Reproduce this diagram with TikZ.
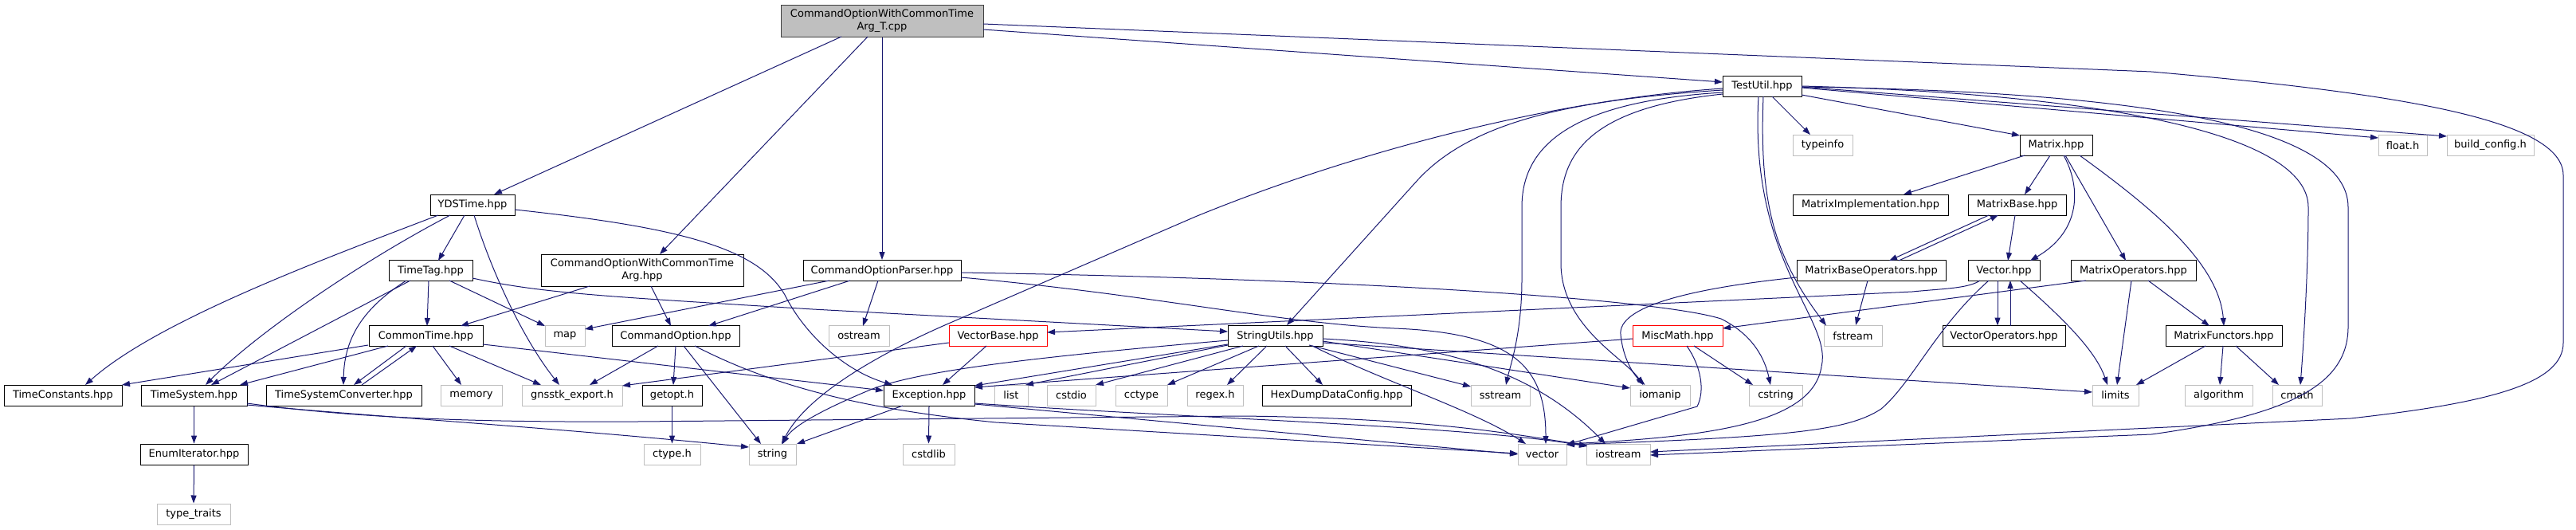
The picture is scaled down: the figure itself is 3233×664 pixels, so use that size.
\documentclass[tikz,border=0pt]{standalone}
\usepackage{fontspec}
\setmainfont{DejaVu Sans}
\usetikzlibrary{arrows.meta,calc}
\definecolor{edgec}{RGB}{25,25,112}
\definecolor{greyb}{RGB}{191,191,191}
\begin{document}
\begin{tikzpicture}[x=1pt,y=-1pt,
 nb/.style={draw=black,line width=1pt,fill=white,inner sep=0pt,minimum height=26pt,font=\fontsize{13pt}{15.5pt}\selectfont,align=center},
 gb/.style={nb,draw=greyb},
 rb/.style={nb,draw=red},
 e/.style={draw=edgec,line width=1pt,-{Triangle[length=10pt,width=7pt]}}]
\useasboundingbox (0,0) rectangle (3233,664);
% nodes
\node[nb,fill=greyb,draw=black!75,minimum width=254pt,minimum height=40pt] (root) at (1107,26) {CommandOptionWithCommonTime\\Arg\_T.cpp};
\node[nb,minimum width=99pt] (TestUtil) at (2211.5,108) {TestUtil.hpp};
\node[gb,minimum width=75pt] (typeinfo) at (2287.5,182) {typeinfo};
\node[nb,minimum width=91pt] (Matrix) at (2580.5,182) {Matrix.hpp};
\node[gb,minimum width=61pt] (floath) at (3015.5,182.5) {float.h};
\node[gb,minimum width=109pt] (buildconfig) at (3125.5,182.5) {build\_config.h};
\node[nb,minimum width=106pt] (YDSTime) at (593,257) {YDSTime.hpp};
\node[nb,minimum width=195pt] (MatrixImpl) at (2347.5,257) {MatrixImplementation.hpp};
\node[nb,minimum width=123pt] (MatrixBase) at (2531.5,257) {MatrixBase.hpp};
\node[nb,minimum width=105pt] (TimeTag) at (540.5,339.5) {TimeTag.hpp};
\node[nb,minimum width=254pt,minimum height=40pt] (COWCTA) at (806,339) {CommandOptionWithCommonTime\\Arg.hpp};
\node[nb,minimum width=198pt] (COParser) at (1107,339.5) {CommandOptionParser.hpp};
\node[nb,minimum width=187pt] (MBO) at (2348.5,339.5) {MatrixBaseOperators.hpp};
\node[nb,minimum width=90pt] (Vector) at (2515,339.5) {Vector.hpp};
\node[nb,minimum width=157pt] (MatrixOps) at (2677.5,339.5) {MatrixOperators.hpp};
\node[nb,minimum width=143pt] (CommonTime) at (534.5,421.5) {CommonTime.hpp};
\node[gb,minimum width=50pt] (map) at (709,421.5) {map};
\node[nb,minimum width=160pt] (CO) at (848,421.5) {CommandOption.hpp};
\node[gb,minimum width=76pt] (ostream) at (1078,421.5) {ostream};
\node[rb,minimum width=123pt] (VB) at (1252.5,421.5) {VectorBase.hpp};
\node[nb,minimum width=119pt] (SU) at (1600.5,421.5) {StringUtils.hpp};
\node[rb,minimum width=113pt] (MM) at (2105.5,421.5) {MiscMath.hpp};
\node[gb,minimum width=73pt] (fstream) at (2325.5,421.5) {fstream};
\node[nb,minimum width=154pt] (VO) at (2515,421.5) {VectorOperators.hpp};
\node[nb,minimum width=146pt] (MF) at (2791,421.5) {MatrixFunctors.hpp};
\node[nb,minimum width=148pt] (TimeConstants) at (79,496) {TimeConstants.hpp};
\node[nb,minimum width=133pt] (TS) at (243.5,496) {TimeSystem.hpp};
\node[nb,minimum width=195pt] (TSC) at (431.5,496) {TimeSystemConverter.hpp};
\node[gb,minimum width=77pt] (memory) at (591.5,496) {memory};
\node[gb,minimum width=126pt] (gnsstk) at (718,496) {gnsstk\_export.h};
\node[nb,minimum width=75pt] (getopt) at (843.5,496) {getopt.h};
\node[nb,minimum width=114pt] (Exc) at (1166,496) {Exception.hpp};
\node[gb,minimum width=42pt] (list) at (1269,496) {list};
\node[gb,minimum width=61pt] (cstdio) at (1344.5,496) {cstdio};
\node[gb,minimum width=65pt] (cctype) at (1432.5,496) {cctype};
\node[gb,minimum width=70pt] (regex) at (1525,496) {regex.h};
\node[nb,minimum width=187pt] (HexDump) at (1677.5,496) {HexDumpDataConfig.hpp};
\node[gb,minimum width=74pt] (sstream) at (1883,496) {sstream};
\node[gb,minimum width=75pt] (iomanip) at (2083.5,496) {iomanip};
\node[gb,minimum width=67pt] (cstring) at (2228.5,496) {cstring};
\node[gb,minimum width=58pt] (limits) at (2655,496) {limits};
\node[gb,minimum width=85pt] (algorithm) at (2784.5,496) {algorithm};
\node[gb,minimum width=62pt] (cmath) at (2883,496) {cmath};
\node[nb,minimum width=135pt] (EnumIt) at (243.5,570) {EnumIterator.hpp};
\node[gb,minimum width=71pt] (ctypeh) at (843.5,570) {ctype.h};
\node[gb,minimum width=59pt] (string) at (969.5,570) {string};
\node[gb,minimum width=65pt] (cstdlib) at (1165.5,570) {cstdlib};
\node[gb,minimum width=61pt] (vector) at (1935.5,570) {vector};
\node[gb,minimum width=80pt] (iostream) at (2031,570) {iostream};
\node[gb,minimum width=92pt] (typetraits) at (243,645) {type\_traits};
% root edges
\draw[e] ($(root)+(-51,20)$) -- ($(YDSTime)+(27,-13)$);
\draw[e] ($(root)+(-18,20)$) -- ($(COWCTA)+(22,-20)$);
\draw[e] (root.south) -- (COParser.north);
\draw[e] ($(root)+(127,11)$) -- ($(TestUtil)+(-49.5,-5)$);
\draw[e] ($(root)+(127,4)$) -- (2700,90) .. controls (3010,117) and (3217,150) .. (3217,220) -- (3217,430) .. controls (3217,480) and (3130,505) .. (2950,525) -- ($(iostream)+(40,-3)$);
% TestUtil edges
\draw[e] ($(TestUtil)+(12.5,13)$) -- ($(typeinfo)+(-15.5,-13)$);
\draw[e] ($(TestUtil)+(49.5,11)$) -- ($(Matrix)+(-45.5,-12)$);
\draw[e] ($(TestUtil)+(49.5,2)$) -- ($(floath)+(-30.5,-9.5)$);
\draw[e] ($(TestUtil)+(49.5,1)$) -- ($(buildconfig)+(-54.5,-11.5)$);
\draw[e] ($(TestUtil)+(49.5,0)$) .. controls (2650,118) and (2897,170) .. (2897,260) .. controls (2897,330) and (2892,420) .. ($(cmath)+(4,-13)$);
\draw[e] ($(TestUtil)+(49.5,1)$) .. controls (2700,115) and (2947,160) .. (2947,260) -- (2947,410) .. controls (2947,480) and (2880,520) .. (2700,545) -- ($(iostream)+(40,1)$);
\draw[e] ($(TestUtil)+(1.5,13)$) .. controls (2208,250) and (2225,320) .. ($(fstream)+(-33.5,-13)$);
\draw[e] ($(TestUtil)+(-4.5,13)$) .. controls (2195,330) and (2300,400) .. (2286,460) .. controls (2275,530) and (2150,548) .. ($(vector)+(30.5,-13)$);
\draw[e] ($(TestUtil)+(-49.5,10)$) .. controls (2000,135) and (1959,190) .. (1959,260) -- (1959,330) .. controls (1959,410) and (2040,450) .. ($(iomanip)+(-21.5,-13)$);
\draw[e] ($(TestUtil)+(-49.5,8)$) .. controls (1960,128) and (1910,190) .. (1910,260) -- (1910,350) .. controls (1910,420) and (1895,460) .. ($(sstream)+(7,-13)$);
\draw[e] ($(TestUtil)+(-49.5,5)$) .. controls (1980,125) and (1850,150) .. (1780,225) -- ($(SU)+(14.5,-13.5)$);
\draw[e] ($(TestUtil)+(-49.5,3)$) .. controls (1950,125) and (1700,190) .. (1500,272) -- (1188,407) .. controls (1090,450) and (1010,500) .. ($(string)+(11.5,-13)$);
% YDSTime edges
\draw[e] ($(YDSTime)+(-43,13)$) .. controls (420,320) and (200,400) .. ($(TimeConstants)+(28,-13)$);
\draw[e] ($(YDSTime)+(-28,13)$) .. controls (450,330) and (320,420) .. ($(TS)+(14.5,-13)$);
\draw[e] ($(YDSTime)+(-10,13)$) -- ($(TimeTag)+(9.5,-12.5)$);
\draw[e] ($(YDSTime)+(2,13)$) .. controls (620,350) and (660,430) .. ($(gnsstk)+(-16,-13)$);
\draw[e] ($(YDSTime)+(53,6)$) .. controls (850,285) and (950,310) .. (985,370) .. controls (1010,420) and (1060,465) .. ($(Exc)+(-46,-13)$);
% TimeTag edges
\draw[e] ($(TimeTag)+(-2.5,12.5)$) -- ($(CommonTime)+(1.5,-12.5)$);
\draw[e] ($(TimeTag)+(-25.5,12.5)$) -- ($(TS)+(21.5,-13)$);
\draw[e] ($(TimeTag)+(-30.5,12.5)$) .. controls (450,390) and (432,430) .. ($(TSC)+(-0.5,-13)$);
\draw[e] ($(TimeTag)+(23.5,12.5)$) -- ($(map)+(-25,-12.5)$);
\draw[e] ($(TimeTag)+(52.5,9.5)$) .. controls (680,368) and (760,372) .. (1020,388) -- ($(SU)+(-59.5,-5.5)$);
% COWCTA edges
\draw[e] ($(COWCTA)+(-66,20)$) -- ($(CommonTime)+(43.5,-12.5)$);
\draw[e] ($(COWCTA)+(11,20)$) -- ($(CO)+(-6,-12.5)$);
% CommandOptionParser edges
\draw[e] ($(COParser)+(-66,12.5)$) -- ($(map)+(25,-8.5)$);
\draw[e] ($(COParser)+(-40,12.5)$) -- ($(CO)+(41,-12.5)$);
\draw[e] ($(COParser)+(-5,12.5)$) -- ($(ostream)+(5,-12.5)$);
\draw[e] ($(COParser)+(99,2.5)$) .. controls (1700,350) and (2080,375) .. (2160,400) .. controls (2200,420) and (2215,450) .. ($(cstring)+(-6.5,-13)$);
\draw[e] ($(COParser)+(99,8.5)$) .. controls (1450,370) and (1600,405) .. (1750,412) .. controls (1900,418) and (1940,460) .. ($(vector)+(4.5,-13)$);
% CommonTime edges
\draw[e] ($(CommonTime)+(-72.5,11.5)$) -- ($(TimeConstants)+(74,-13)$);
\draw[e] ($(CommonTime)+(-47.5,12.5)$) -- ($(TS)+(57.5,-13)$);
\draw[e] ($(CommonTime)+(-24.5,12.5)$) -- ($(TSC)+(12.5,-13)$);
\draw[e] ($(TSC)+(22.5,-13)$) -- ($(CommonTime)+(-11.5,12.5)$);
\draw[e] ($(CommonTime)+(8.5,12.5)$) -- ($(memory)+(-12.5,-13)$);
\draw[e] ($(CommonTime)+(29.5,12.5)$) -- ($(gnsstk)+(-39,-13)$);
\draw[e] ($(CommonTime)+(71.5,10.5)$) -- ($(Exc)+(-57,-6)$);
% CommandOption edges
\draw[e] ($(CO)+(-22,12.5)$) -- ($(gnsstk)+(22,-13)$);
\draw[e] ($(CO)+(0,12.5)$) -- ($(getopt)+(1.5,-13)$);
\draw[e] ($(CO)+(10,12.5)$) -- ($(string)+(-14.5,-13)$);
\draw[e] ($(CO)+(24,12.5)$) .. controls (980,490) and (1100,515) .. (1250,530) -- ($(vector)+(-30.5,-1)$);
% TimeSystem edges
\draw[e] (TS.south) -- (EnumIt.north);
\draw[e] ($(TS)+(66.5,12)$) .. controls (500,525) and (700,537) .. ($(string)+(-29.5,-9)$);
\draw[e] ($(TS)+(66.5,10)$) .. controls (450,525) and (600,530) .. (800,529) -- (1560,522) .. controls (1800,525) and (1900,545) .. ($(iostream)+(-39,-11)$);
\draw[e] (EnumIt.south) -- (typetraits.north);
\draw[e] (getopt.south) -- (ctypeh.north);
% Exception edges
\draw[e] ($(Exc)+(-33,13)$) -- ($(string)+(30.5,-13)$);
\draw[e] (Exc.south) -- (cstdlib.north);
\draw[e] ($(Exc)+(57,11)$) -- ($(vector)+(-30.5,0)$);
\draw[e] ($(Exc)+(57,10)$) .. controls (1500,525) and (1850,535) .. ($(iostream)+(-39,-10)$);
% VectorBase edges
\draw[e] ($(VB)+(-61.5,8.5)$) -- ($(gnsstk)+(63,-12)$);
\draw[e] ($(VB)+(-14.5,12.5)$) -- ($(Exc)+(17,-13)$);
% StringUtils edges
\draw[e] ($(SU)+(-59.5,10.5)$) -- ($(Exc)+(57,-12)$);
\draw[e] ($(SU)+(-59.5,11.5)$) -- ($(list)+(18,-13)$);
\draw[e] ($(SU)+(-40.5,12.5)$) -- ($(cstdio)+(30.5,-13)$);
\draw[e] ($(SU)+(-20.5,12.5)$) -- ($(cctype)+(32.5,-13)$);
\draw[e] ($(SU)+(-10.5,12.5)$) -- ($(regex)+(15,-13)$);
\draw[e] ($(SU)+(12.5,12.5)$) -- ($(HexDump)+(-17.5,-13)$);
\draw[e] ($(SU)+(42.5,11.5)$) -- ($(sstream)+(-37,-11)$);
\draw[e] ($(SU)+(46.5,12.5)$) .. controls (1740,480) and (1850,515) .. ($(vector)+(-20.5,-13)$);
\draw[e] ($(SU)+(59.5,6.5)$) -- ($(iomanip)+(-37.5,-9)$);
\draw[e] ($(SU)+(59.5,3.5)$) .. controls (1800,432) and (1920,460) .. ($(iostream)+(-16,-13)$);
\draw[e] ($(SU)+(59.5,8.5)$) -- ($(limits)+(-29,-4)$);
\draw[e] ($(SU)+(-59.5,5.5)$) .. controls (1300,448) and (1150,465) .. (1090,490) .. controls (1030,515) and (995,535) .. ($(string)+(12.5,-13)$);
% MiscMath edges
\draw[e] ($(MM)+(-56.5,3.5)$) -- ($(Exc)+(57,-10)$);
\draw[e] ($(MM)+(20.5,12.5)$) -- ($(cstring)+(-28.5,-13)$);
\draw[e] ($(MM)+(11.5,12.5)$) .. controls (2135,460) and (2140,490) .. (2130,510) -- ($(vector)+(30.5,-12)$);
% MatrixBaseOperators edges
\draw[e] ($(MBO)+(34.5,-12.5)$) -- ($(MatrixBase)+(-23.5,13)$);
\draw[e] ($(MatrixBase)+(-35.5,13)$) -- ($(MBO)+(22.5,-12.5)$);
\draw[e] ($(MBO)+(-4.5,12.5)$) -- ($(fstream)+(3.5,-13.5)$);
\draw[e] ($(MBO)+(-93.5,8.5)$) .. controls (2120,362) and (2030,385) .. (2034,420) .. controls (2037,450) and (2050,470) .. ($(iomanip)+(-19,-13)$);
% Matrix edges
\draw[e] ($(Matrix)+(-39.5,13)$) -- ($(MatrixImpl)+(41.5,-13)$);
\draw[e] ($(Matrix)+(-7.5,13)$) -- ($(MatrixBase)+(9.5,-13)$);
\draw[e] ($(Matrix)+(9.5,13)$) .. controls (2612,235) and (2612,290) .. ($(Vector)+(33,-12.5)$);
\draw[e] ($(Matrix)+(11.5,13)$) -- ($(MatrixOps)+(-9.5,-12.5)$);
\draw[e] ($(Matrix)+(29.5,13)$) .. controls (2700,260) and (2785,330) .. ($(MF)+(0,-12.5)$);
% MatrixBase edge
\draw[e] ($(MatrixBase)+(-2.5,13)$) -- ($(Vector)+(5,-12.5)$);
% Vector edges
\draw[e] ($(Vector)+(-8,12.5)$) -- ($(VO)+(-8,-13)$);
\draw[e] ($(VO)+(8,-13)$) -- ($(Vector)+(8,12.5)$);
\draw[e] ($(Vector)+(20,12.5)$) .. controls (2590,400) and (2630,440) .. ($(limits)+(-10,-13)$);
\draw[e] ($(Vector)+(-19,12.5)$) .. controls (2430,410) and (2400,480) .. (2361,513) .. controls (2320,540) and (2250,548) .. ($(vector)+(30.5,-12)$);
\draw[e] ($(Vector)+(-30,12.5)$) .. controls (2470,362) and (2440,362) .. (2400,366) -- ($(VB)+(61.5,-4.5)$);
% MatrixOperators edges
\draw[e] ($(MatrixOps)+(-59.5,12.5)$) -- ($(MM)+(56.5,-9.5)$);
\draw[e] ($(MatrixOps)+(-2.5,12.5)$) -- ($(limits)+(2,-13)$);
\draw[e] ($(MatrixOps)+(18.5,12.5)$) -- ($(MF)+(-18,-12.5)$);
% MatrixFunctors edges
\draw[e] ($(MF)+(-23,12.5)$) -- ($(limits)+(26,-13)$);
\draw[e] ($(MF)+(-1,12.5)$) -- ($(algorithm)+(1.5,-13)$);
\draw[e] ($(MF)+(15,12.5)$) -- ($(cmath)+(-23,-13)$);
\end{tikzpicture}
\end{document}
